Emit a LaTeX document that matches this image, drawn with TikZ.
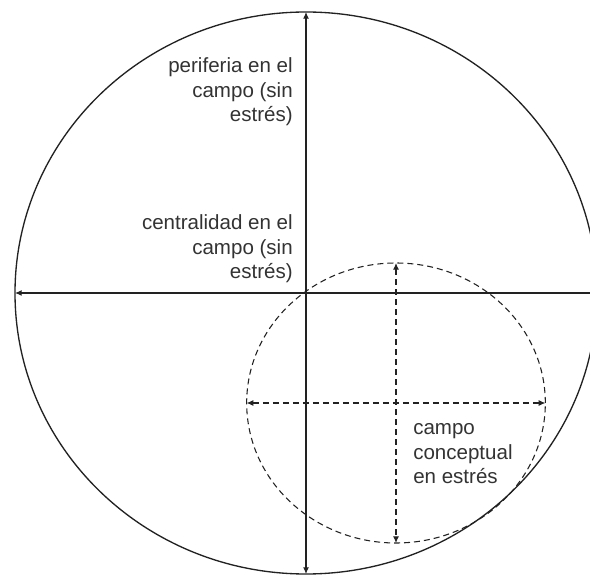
\documentclass[tikz,border=0pt]{standalone}
\usepackage{fontspec}
\setmainfont{Liberation Sans}
\usepackage{tikz}
\usetikzlibrary{arrows.meta,shapes.geometric}
\definecolor{ink}{HTML}{222222}
\definecolor{txt}{HTML}{333333}
\tikzset{
  campo/.style={ellipse, draw=ink, line width=1pt, inner sep=0pt, outer sep=0pt},
  estres/.style={campo, dashed, dash pattern=on 4.5pt off 3pt, line width=0.8pt},
  eje/.style={{Latex[length=5pt,width=4.5pt]}-{Latex[length=5pt,width=4.5pt]}, draw=ink, line width=0.9pt},
  ejeguion/.style={eje, line width=0.8pt, dash pattern=on 4.5pt off 3pt},
  rotulo/.style={font=\fontsize{15.4}{18.4}\selectfont, text=txt, inner sep=0pt}
}
\begin{document}
\begin{tikzpicture}[x=0.75pt, y=-0.75pt]
  \clip (0,0) rectangle (590,581);
  \fill[white] (0,0) rectangle (590,581);

  \node[campo, minimum width=436.5pt, minimum height=421.5pt] (campo) at (306,293) {};
  \node[estres, minimum width=224pt, minimum height=210pt] (estres) at (396,403) {};

  \draw[eje] (campo.north) -- (campo.south);
  \draw[eje] (campo.west) -- (campo.east);
  \draw[ejeguion] (estres.north) -- (estres.south);
  \draw[ejeguion] (estres.west) -- (estres.east);

  \node[rotulo, align=right, anchor=east] (perif) at (293,92) {periferia en el\\campo (sin\\estrés)};
  \node[rotulo, align=right, anchor=east] (central) at (293,249) {centralidad en el\\campo (sin\\estrés)};
  \node[rotulo, align=left, anchor=west] (concepto) at (413,454) {campo\\conceptual\\en estrés};
\end{tikzpicture}
\end{document}
